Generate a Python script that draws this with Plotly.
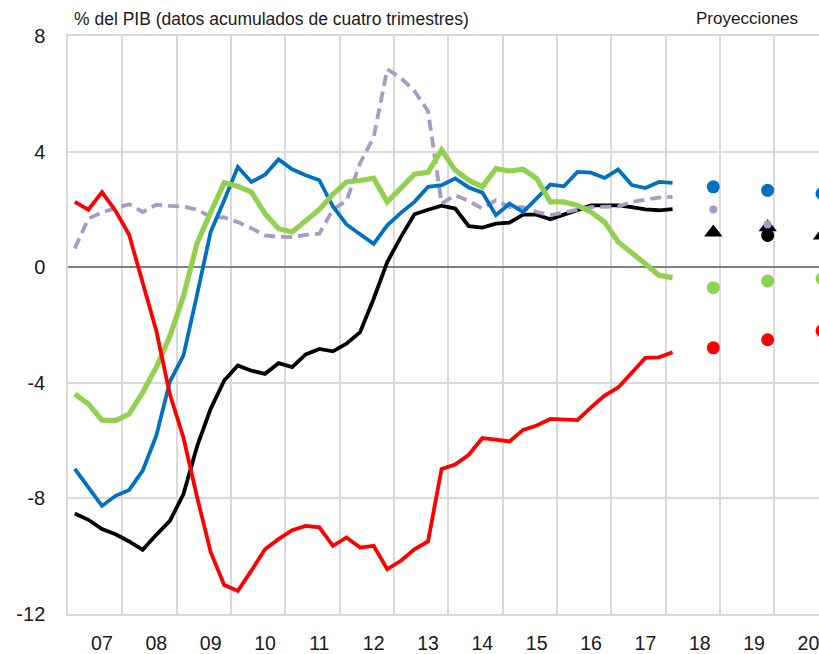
import plotly.graph_objects as go

# ---------------- data ----------------
years = list(range(2007, 2021))
year_labels = ["07", "08", "09", "10", "11", "12", "13", "14", "15", "16", "17", "18", "19", "20"]

# quarterly observations 2007T1 .. 2018T1 (45 quarters)
quarters = [f"{2007 + i // 4}T{i % 4 + 1}" for i in range(45)]

red = [2.26, 1.99, 2.60, 1.95, 1.12, -0.55, -2.2, -4.4, -5.9, -7.95, -9.85, -11.0, -11.2,
       -10.5, -9.76, -9.41, -9.1, -8.95, -9.0, -9.64, -9.35, -9.7, -9.64, -10.45, -10.16,
       -9.76, -9.49, -6.98, -6.83, -6.49, -5.91, -5.97, -6.03, -5.63, -5.48, -5.25, -5.28,
       -5.29, -4.85, -4.44, -4.16, -3.64, -3.14, -3.12, -2.94]
black = [-8.52, -8.74, -9.06, -9.24, -9.49, -9.78, -9.26, -8.78, -7.85, -6.2, -4.9, -3.92,
         -3.40, -3.58, -3.69, -3.32, -3.46, -3.02, -2.83, -2.91, -2.65, -2.25, -1.09, 0.18,
         1.04, 1.83, 1.99, 2.13, 2.03, 1.42, 1.37, 1.51, 1.54, 1.82, 1.82, 1.66, 1.82, 1.99,
         2.14, 2.14, 2.14, 2.08, 2.0, 1.97, 2.01]
blue = [-6.98, -7.6, -8.26, -7.91, -7.71, -7.04, -5.83, -3.96, -3.05, -0.95, 1.22, 2.32, 3.47,
        2.95, 3.2, 3.73, 3.39, 3.18, 3.01, 2.1, 1.48, 1.14, 0.81, 1.45, 1.88, 2.26, 2.78,
        2.84, 3.07, 2.76, 2.58, 1.8, 2.2, 1.91, 2.37, 2.86, 2.8, 3.3, 3.27, 3.09, 3.38, 2.84,
        2.74, 2.95, 2.92]
green = [-4.39, -4.73, -5.29, -5.31, -5.08, -4.33, -3.46, -2.38, -1.0, 0.83, 1.9, 2.92, 2.8,
         2.6, 1.85, 1.33, 1.22, 1.62, 2.0, 2.52, 2.95, 3.0, 3.08, 2.26, 2.72, 3.22, 3.28,
         4.05, 3.36, 3.01, 2.78, 3.41, 3.33, 3.39, 3.07, 2.26, 2.26, 2.14, 1.91, 1.56, 0.87,
         0.52, 0.12, -0.28, -0.36]
purple = [0.65, 1.68, 1.9, 2.03, 2.18, 1.91, 2.16, 2.12, 2.1, 1.99, 1.75, 1.72, 1.56, 1.35,
          1.1, 1.05, 1.04, 1.12, 1.16, 2.0, 2.3, 3.6, 4.5, 6.85, 6.55, 6.1, 5.4, 2.2, 2.49,
          2.29, 2.03, 2.32, 2.08, 2.08, 1.91, 1.8, 1.91, 1.99, 2.08, 2.08, 2.1, 2.26, 2.34,
          2.41, 2.43]

# projections (end of year, fourth quarter)
proj_quarters = ["2018T4", "2019T4", "2020T4"]
blue_proj = [2.78, 2.66, 2.55]
purple_proj = [2.0, 1.48, None]
black_tri_proj = [1.2, 1.38, 1.1]
black_dot_proj = [None, 1.1, None]
green_proj = [-0.71, -0.48, -0.4]
red_proj = [-2.79, -2.51, -2.2]

y_ticks = [-12, -8, -4, 0, 4, 8]


def qpos(q):
    """quarter label -> position on a continuous year axis (centre of the quarter)"""
    y, n = q.split("T")
    return int(y) + (int(n) - 0.5) / 4


x = [qpos(q) for q in quarters]
xp = [qpos(q) for q in proj_quarters]

RED = "#FF0000"
BLUE = "#0070C0"
GREEN = "#92D050"
BLACK = "#000000"
PURPLE = "#A79BC3"
GRID = "#DADADA"
FONT = "Liberation Sans, Arial, sans-serif"

fig = go.Figure()

fig.add_trace(go.Scatter(x=x, y=black, mode="lines", line=dict(color=BLACK, width=3.8)))
fig.add_trace(go.Scatter(x=x, y=purple, mode="lines",
                         line=dict(color=PURPLE, width=3.8, dash="11px,6px")))
fig.add_trace(go.Scatter(x=x, y=blue, mode="lines", line=dict(color=BLUE, width=3.8)))
fig.add_trace(go.Scatter(x=x, y=green, mode="lines", line=dict(color=GREEN, width=5.2)))
fig.add_trace(go.Scatter(x=x, y=red, mode="lines", line=dict(color=RED, width=3.8)))

fig.add_trace(go.Scatter(x=xp, y=black_tri_proj, mode="markers",
                         marker=dict(symbol="triangle-up", size=16, color=BLACK)))
fig.add_trace(go.Scatter(x=xp, y=black_dot_proj, mode="markers",
                         marker=dict(symbol="circle", size=13, color=BLACK)))
fig.add_trace(go.Scatter(x=xp, y=blue_proj, mode="markers",
                         marker=dict(symbol="circle", size=13, color=BLUE)))
fig.add_trace(go.Scatter(x=xp, y=green_proj, mode="markers",
                         marker=dict(symbol="circle", size=13, color=GREEN)))
fig.add_trace(go.Scatter(x=xp, y=red_proj, mode="markers",
                         marker=dict(symbol="circle", size=13, color=RED)))
fig.add_trace(go.Scatter(x=xp, y=purple_proj, mode="markers",
                         marker=dict(symbol="circle", size=8, color=PURPLE)))

fig.update_layout(
    width=819, height=654,
    margin=dict(l=68, r=0, t=36, b=40),
    paper_bgcolor="white", plot_bgcolor="white",
    showlegend=False,
    font=dict(family=FONT, color="#1a1a1a"),
    xaxis=dict(
        range=[2007, 2020.82],
        automargin=False,
        tickvals=[yr + 0.625 for yr in years],
        ticktext=year_labels,
        showgrid=False, zeroline=False,
        showline=True, mirror=True, linecolor=GRID, linewidth=1.5,
        ticks="",
        tickfont=dict(size=19.5, family=FONT, color="#1a1a1a"),
        ticklabelstandoff=11,
        ticklabeloverflow="allow",
        minor=dict(tickvals=years, showgrid=True, gridcolor=GRID, gridwidth=1.5, ticks=""),
    ),
    yaxis=dict(
        range=[-12, 8],
        automargin=False,
        tickvals=y_ticks,
        ticktext=[str(v) for v in y_ticks],
        showgrid=True, gridcolor=GRID, gridwidth=1.5,
        zeroline=True, zerolinecolor="#7F7F7F", zerolinewidth=2,
        showline=True, linecolor=GRID, linewidth=1.5,
        ticks="",
        tickfont=dict(size=20, family=FONT, color="#1a1a1a"),
        ticklabelstandoff=17,
    ),
    annotations=[
        dict(text="% del PIB (datos acumulados de cuatro trimestres)",
             xref="paper", yref="paper", x=0.005, y=1.0295,
             xanchor="left", yanchor="middle", showarrow=False,
             font=dict(size=17.5, family=FONT, color="#1a1a1a")),
        dict(text="Proyecciones",
             xref="paper", yref="paper", x=0.9747, y=1.0295,
             xanchor="right", yanchor="middle", showarrow=False,
             font=dict(size=17, family=FONT, color="#1a1a1a")),
    ],
)

fig.write_html(
    "out.html",
    config={"displayModeBar": False},
    post_script="document.body.style.margin='0';document.body.style.overflow='hidden';",
)
